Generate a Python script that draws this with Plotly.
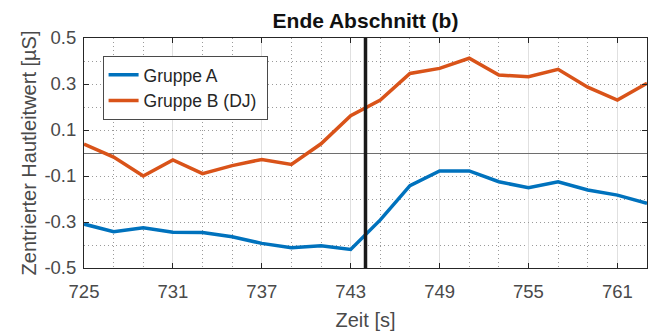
import plotly.graph_objects as go

# ---- data ----
zeit = [725, 727, 729, 731, 733, 735, 737, 739, 741, 743, 745, 747, 749, 751, 753, 755, 757, 759, 761, 763]
gruppe_a = [-0.309, -0.342, -0.325, -0.345, -0.346, -0.364, -0.393, -0.412, -0.403, -0.419,
            -0.291, -0.142, -0.078, -0.078, -0.125, -0.151, -0.125, -0.161, -0.183, -0.219]
gruppe_b = [0.039, -0.018, -0.100, -0.030, -0.090, -0.055, -0.028, -0.050, 0.040, 0.162,
            0.230, 0.346, 0.368, 0.412, 0.339, 0.332, 0.364, 0.286, 0.230, 0.303]
marker_zeit = 744
x_tickvals = [725, 731, 737, 743, 749, 755, 761]
x_ticktext = ["725", "731", "737", "743", "749", "755", "761"]
y_tickvals = [-0.5, -0.3, -0.1, 0.1, 0.3, 0.5]
y_ticktext = ["-0.5", "-0.3", "-0.1", "0.1", "0.3", "0.5"]

FONT = "Liberation Sans, Arial, sans-serif"
TXT = "#262626"
TICK = "#4a4a4a"
DOT = "1px,3px"

fig = go.Figure()
fig.add_trace(go.Scatter(x=zeit, y=gruppe_a, mode="lines", name="Gruppe A ",
                         line=dict(color="#0072BD", width=3.5)))
fig.add_trace(go.Scatter(x=zeit, y=gruppe_b, mode="lines", name="Gruppe B (DJ) ",
                         line=dict(color="#D95319", width=3.5)))

fig.add_shape(type="line", x0=marker_zeit, x1=marker_zeit, y0=0, y1=1,
              xref="x", yref="paper", line=dict(color="#1a1a1a", width=3.5))

fig.update_layout(
    width=652, height=331,
    margin=dict(l=84, r=5, t=38, b=63),
    paper_bgcolor="white", plot_bgcolor="white",
    font=dict(family=FONT, color=TXT, size=18),
    title=dict(text="<b>Ende Abschnitt (b)</b>", x=0.5, xref="paper", xanchor="center",
               y=1 - 21/331, yanchor="middle", font=dict(size=21, color="#111111")),
    showlegend=True,
    legend=dict(x=0.033, y=0.922, xanchor="left", yanchor="top",
                bgcolor="white", bordercolor="#4a4a4a", borderwidth=1,
                font=dict(size=17.5, color=TXT), tracegroupgap=0),
)

fig.update_xaxes(
    range=[725, 763], tickvals=x_tickvals, ticktext=x_ticktext,
    ticks="inside", ticklen=5, tickcolor=TXT, showline=True, linecolor=TXT, linewidth=1,
    mirror="ticks", showgrid=True, gridcolor="#e0e0e0", gridwidth=1,
    minor=dict(dtick=2, tick0=725, showgrid=True, gridcolor="#9a9a9a", griddash=DOT, ticks=""),
    tickfont=dict(size=18.5, color=TICK), zeroline=False, ticklabelstandoff=7,
    title=dict(text="Zeit [s]", font=dict(size=20, color=TICK), standoff=11),
)
fig.update_yaxes(
    range=[-0.5, 0.5], tickvals=y_tickvals, ticktext=y_ticktext,
    ticks="inside", ticklen=5, tickcolor=TXT, showline=True, linecolor=TXT, linewidth=1,
    mirror="ticks", showgrid=True, gridcolor="#9a9a9a", griddash=DOT, gridwidth=1,
    minor=dict(dtick=0.1, tick0=-0.5, showgrid=True, gridcolor="#9a9a9a", griddash=DOT, ticks=""),
    zeroline=True, zerolinecolor="#6e6e6e", zerolinewidth=1,
    tickfont=dict(size=18.5, color=TICK), ticklabelstandoff=3,
    title=dict(text="Zentrierter Hautleitwert [µS]", font=dict(size=20, color=TICK), standoff=2),
)

fig.write_html("out.html")
